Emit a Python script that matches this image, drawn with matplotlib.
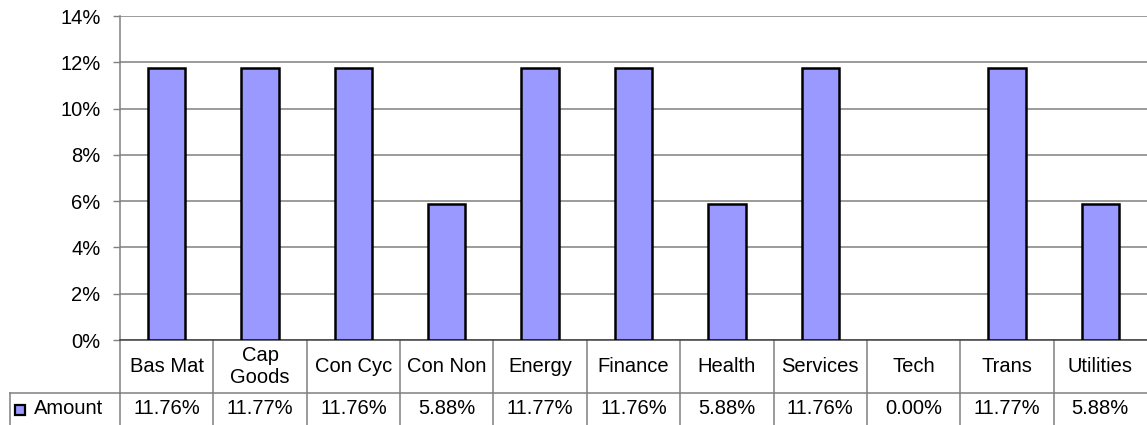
import numpy as np
import matplotlib
matplotlib.use('Agg')
import matplotlib.pyplot as plt
from matplotlib.ticker import FuncFormatter
from matplotlib.transforms import blended_transform_factory
from matplotlib.patches import Rectangle

plt.rcParams['font.family'] = ['Liberation Sans', 'DejaVu Sans']

# data
categories = ['Bas Mat', 'Cap\nGoods', 'Con Cyc', 'Con Non', 'Energy', 'Finance',
              'Health', 'Services', 'Tech', 'Trans', 'Utilities']
amount = [11.76, 11.77, 11.76, 5.88, 11.77, 11.76, 5.88, 11.76, 0.00, 11.77, 5.88]
series_name = 'Amount'
yticks = [0, 2, 4, 6, 8, 10, 12, 14]

W, H = 1147, 425
fig = plt.figure(figsize=(W / 100, H / 100), dpi=100)
ax = fig.add_axes([120 / W, 85 / H, 1027 / W, 324 / H])

bar_color = '#9999FF'
grid_color = '#808080'
fs = 14.5

x = np.arange(len(categories))
# zero-height bars get no outline (Excel draws nothing there)
edge_w = [1.8 if v > 0 else 0 for v in amount]
ax.bar(x, amount, width=0.4, color=bar_color, edgecolor='black', linewidth=edge_w, zorder=3)
ax.set_xlim(-0.5, len(categories) - 0.5)
ax.set_ylim(0, 14)
ax.set_yticks(yticks)
ax.yaxis.set_major_formatter(FuncFormatter(lambda v, p: f'{v:.0f}%'))
ax.grid(axis='y', color=grid_color, linewidth=1.1, zorder=0)
ax.set_axisbelow(True)
ax.tick_params(axis='y', length=5, width=1, color=grid_color, labelsize=fs, pad=9)
ax.tick_params(axis='x', bottom=False, labelbottom=False)
for s in ['top', 'right']:
    ax.spines[s].set_visible(False)
ax.spines['left'].set_color(grid_color)
ax.spines['left'].set_linewidth(1.1)
ax.spines['bottom'].set_color('#404040')
ax.spines['bottom'].set_linewidth(1.1)

# data table under the plot
trans = blended_transform_factory(ax.transData, ax.transAxes)
hdr_bot = -53 / 324
row_bot = -87 / 324
left_cell = -110 / 1027
lc = grid_color
lw = 1.1

for i in range(len(categories)):
    ax.plot([i - 0.5, i - 0.5], [0, row_bot], transform=trans, color=lc, lw=lw, clip_on=False)
    ax.text(i, hdr_bot / 2, categories[i], transform=trans, ha='center', va='center',
            fontsize=fs, linespacing=1.2)
    ax.text(i, (hdr_bot + row_bot) / 2 + 0.005, f'{amount[i]:.2f}%', transform=trans,
            ha='center', va='center', fontsize=fs)
ax.plot([-0.5, len(categories) - 0.5], [hdr_bot, hdr_bot], transform=trans,
        color=lc, lw=lw, clip_on=False)
ax.plot([left_cell, 0], [hdr_bot, hdr_bot], transform=ax.transAxes,
        color=lc, lw=lw, clip_on=False)
ax.plot([left_cell, left_cell], [hdr_bot, row_bot], transform=ax.transAxes,
        color=lc, lw=lw, clip_on=False)
ax.plot([left_cell, 1], [row_bot, row_bot], transform=ax.transAxes,
        color=lc, lw=lw, clip_on=False)

# legend key and series name
key = Rectangle((left_cell + 5 / 1027, (hdr_bot + row_bot) / 2 - 5 / 324), 10 / 1027, 10 / 324,
                transform=ax.transAxes, facecolor=bar_color, edgecolor='black',
                linewidth=1.6, clip_on=False)
ax.add_patch(key)
ax.text(left_cell + 24 / 1027, (hdr_bot + row_bot) / 2 + 0.005, series_name,
        transform=ax.transAxes, ha='left', va='center', fontsize=fs)

fig.savefig('out.png', dpi=100)
